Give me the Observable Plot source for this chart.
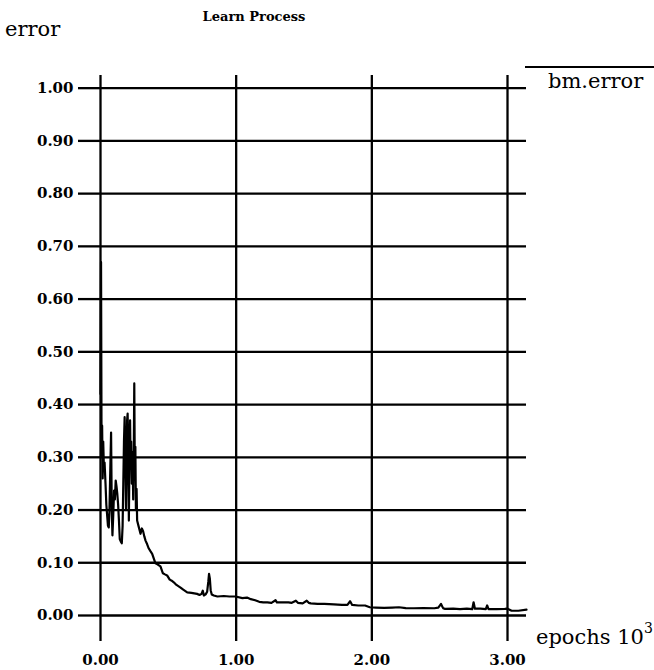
<!DOCTYPE html>
<html>
<head>
<meta charset="utf-8">
<script src="https://cdn.jsdelivr.net/npm/d3@7"></script>
<script src="https://cdn.jsdelivr.net/npm/@observablehq/plot@0.6"></script>
<style>
  html, body { margin: 0; padding: 0; background: #fff; }
  #chart { position: relative; width: 654px; height: 670px; }
</style>
</head>
<body>
<div id="chart"></div>
<script>
// epochs (in thousands)
const epochs = [
  0.000, 0.004, 0.008, 0.012, 0.016, 0.020, 0.025, 0.030, 0.037, 0.043,
  0.049, 0.055, 0.061, 0.066, 0.070, 0.074, 0.078, 0.083, 0.088, 0.094,
  0.100, 0.106, 0.112, 0.118, 0.124, 0.130, 0.136, 0.142, 0.150, 0.157,
  0.163, 0.168, 0.173, 0.178, 0.183, 0.188, 0.192, 0.196, 0.200, 0.205,
  0.209, 0.214, 0.218, 0.222, 0.226, 0.231, 0.236, 0.241, 0.245, 0.249,
  0.253, 0.257, 0.261, 0.266, 0.270, 0.280, 0.295, 0.305, 0.314, 0.323,
  0.332, 0.344, 0.356, 0.368, 0.381, 0.393, 0.405, 0.420, 0.442, 0.460,
  0.475, 0.491, 0.510, 0.525, 0.540, 0.560, 0.590, 0.610, 0.639, 0.670,
  0.712, 0.730, 0.745, 0.754, 0.762, 0.775, 0.786, 0.795, 0.800, 0.806,
  0.812, 0.820, 0.835, 0.862, 0.909, 0.950, 0.995, 1.046, 1.080, 1.108,
  1.140, 1.170, 1.200, 1.230, 1.260, 1.290, 1.300, 1.340, 1.385, 1.410,
  1.440, 1.455, 1.490, 1.520, 1.535, 1.550, 1.600, 1.650, 1.720, 1.780,
  1.820, 1.840, 1.855, 1.900, 1.950, 1.985, 2.030, 2.090, 2.150, 2.200,
  2.250, 2.310, 2.380, 2.460, 2.490, 2.510, 2.525, 2.540, 2.600, 2.650,
  2.700, 2.740, 2.750, 2.760, 2.800, 2.840, 2.850, 2.860, 2.920, 2.980,
  3.000, 3.030, 3.080, 3.140
];
// bm.error values
const bmError = [
  0.42, 0.67, 0.30, 0.36, 0.26, 0.33, 0.28, 0.29, 0.25, 0.21,
  0.19, 0.17, 0.167, 0.20, 0.25, 0.30, 0.347, 0.20, 0.152, 0.19,
  0.237, 0.22, 0.256, 0.245, 0.23, 0.21, 0.18, 0.145, 0.14, 0.137,
  0.17, 0.25, 0.33, 0.376, 0.30, 0.20, 0.28, 0.37, 0.383, 0.30,
  0.18, 0.30, 0.37, 0.28, 0.33, 0.25, 0.31, 0.22, 0.30, 0.44,
  0.27, 0.32, 0.20, 0.24, 0.18, 0.17, 0.155, 0.165, 0.16, 0.15,
  0.142, 0.135, 0.127, 0.122, 0.117, 0.108, 0.099, 0.097, 0.093, 0.080,
  0.078, 0.076, 0.068, 0.066, 0.063, 0.058, 0.053, 0.049, 0.044, 0.043,
  0.041, 0.039, 0.041, 0.047, 0.038, 0.040, 0.045, 0.065, 0.079, 0.070,
  0.048, 0.040, 0.038, 0.036, 0.037, 0.036, 0.036, 0.033, 0.034, 0.031,
  0.029, 0.026, 0.025, 0.025, 0.024, 0.029, 0.025, 0.025, 0.025, 0.024,
  0.028, 0.024, 0.023, 0.028, 0.024, 0.023, 0.022, 0.022, 0.021, 0.020,
  0.020, 0.027, 0.020, 0.019, 0.019, 0.0156, 0.015, 0.0144, 0.015, 0.0156,
  0.014, 0.0137, 0.014, 0.0137, 0.015, 0.022, 0.014, 0.0125, 0.013, 0.012,
  0.013, 0.012, 0.025, 0.013, 0.013, 0.012, 0.019, 0.012, 0.012, 0.0125,
  0.013, 0.009, 0.009, 0.011
];
const xTicks = [0, 1, 2, 3];
const yTicks = [0, 0.1, 0.2, 0.3, 0.4, 0.5, 0.6, 0.7, 0.8, 0.9, 1.0];
const titleText = "Learn Process";
const yLabel = "error";
const xLabel = "epochs 10";
const xLabelExp = "3";
const seriesName = "bm.error";

const data = epochs.map((e, i) => ({epoch: e, error: bmError[i]}));
const fmt = d3.format(".2f");

const plot = Plot.plot({
  width: 654,
  height: 670,
  marginLeft: 100,
  marginRight: 128,
  marginTop: 75,
  marginBottom: 55,
  style: {fontFamily: "'DejaVu Serif', serif", fontSize: "15px", fontWeight: "bold", color: "#000", background: "transparent", overflow: "visible"},
  x: {domain: [0, 3.14]},
  y: {domain: [0, 1.024]},
  marks: [
    Plot.gridX(xTicks, {stroke: "#000", strokeOpacity: 1, strokeWidth: 2.3}),
    Plot.gridY(yTicks, {stroke: "#000", strokeOpacity: 1, strokeWidth: 2.3}),
    Plot.axisX(xTicks, {tickSize: 26, tickPadding: 13, tickFormat: fmt, strokeWidth: 2.3, label: null, fontWeight: "bold"}),
    Plot.axisY(yTicks, {tickSize: 22, tickPadding: 5, tickFormat: fmt, strokeWidth: 2.3, label: null, fontWeight: "bold"}),
    Plot.line(data, {x: "epoch", y: "error", stroke: "#000", strokeWidth: 2.2, curve: "linear"})
  ]
});
document.getElementById("chart").appendChild(plot);

const svg = d3.select(plot);
svg.append("text")
  .attr("x", 254).attr("y", 21)
  .attr("text-anchor", "middle")
  .style("font-family", "'DejaVu Serif', serif")
  .style("font-weight", "bold").style("font-size", "13px")
  .text(titleText);
svg.append("text")
  .attr("x", 5).attr("y", 36)
  .attr("text-anchor", "start")
  .style("font-family", "'DejaVu Serif', serif")
  .style("font-weight", "normal").style("font-size", "21px")
  .text(yLabel);
svg.append("line")
  .attr("x1", 525).attr("x2", 654).attr("y1", 67).attr("y2", 67)
  .attr("stroke", "#000").attr("stroke-width", 2);
svg.append("text")
  .attr("x", 548).attr("y", 88)
  .attr("text-anchor", "start")
  .style("font-family", "'DejaVu Serif', serif")
  .style("font-weight", "normal").style("font-size", "21px")
  .text(seriesName);
const xl = svg.append("text")
  .attr("x", 536).attr("y", 644)
  .attr("text-anchor", "start")
  .style("font-family", "'DejaVu Serif', serif")
  .style("font-weight", "normal").style("font-size", "21px");
xl.append("tspan").text(xLabel);
xl.append("tspan").attr("dy", -11).style("font-size", "14px").text(xLabelExp);
</script>
</body>
</html>
